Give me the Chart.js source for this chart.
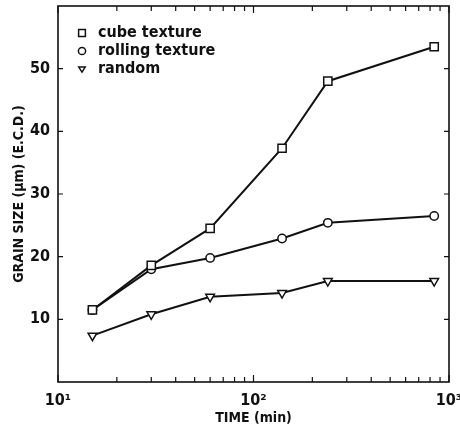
<!DOCTYPE html>
<html>
<head>
<meta charset="utf-8">
<script src="https://cdn.jsdelivr.net/npm/chart.js@4.4.1/dist/chart.umd.min.js"></script>
<style>
  html, body { margin: 0; padding: 0; background: #fff; }
  #wrap { width: 460px; height: 430px; }
</style>
</head>
<body>
<div id="wrap"><canvas id="c" width="460" height="430"></canvas></div>
<script>
// Annealing time (min) and mean grain size (µm, equivalent circle diameter)
const times = [15, 30, 60, 140, 240, 840];
const cubeTexture = [11.5, 18.6, 24.5, 37.3, 48.0, 53.5];
const rollingTexture = [11.5, 18.0, 19.8, 22.9, 25.4, 26.5];
const randomTexture = [7.4, 10.8, 13.6, 14.2, 16.1, 16.1];

const seriesNames = ['cube texture', 'rolling texture', 'random'];
const seriesStyles = ['rect', 'circle', 'triangleDown'];

// Axis ticks: decades are labelled, the rest are minor marks
const xTickValues = [10, 20, 30, 40, 50, 60, 70, 80, 90, 100, 200, 300, 400, 500, 600, 700, 800, 900, 1000];
const xTickLabels = { 10: '10\u00B9', 100: '10\u00B2', 1000: '10\u00B3' };
const yTickValues = [10, 20, 30, 40, 50];

const FONT = '"DejaVu Sans Condensed", "DejaVu Sans", sans-serif';
const INK = '#111';

function markerPath(ctx, style, x, y, r) {
  ctx.beginPath();
  if (style === 'rect') {
    const h = r * Math.SQRT1_2;
    ctx.rect(x - h, y - h, 2 * h, 2 * h);
  } else if (style === 'circle') {
    ctx.arc(x, y, r, 0, Math.PI * 2);
  } else {
    // downward triangle
    const s = r * 0.9;
    ctx.moveTo(x - s, y - s * 0.6);
    ctx.lineTo(x + s, y - s * 0.6);
    ctx.lineTo(x, y + s * 0.95);
    ctx.closePath();
  }
}

// Closed frame with inward tick marks on all four sides
const framePlugin = {
  id: 'frame',
  afterDraw(chart) {
    const { ctx, chartArea: a, scales } = chart;
    const xs = scales.x, ys = scales.y;
    ctx.save();
    ctx.strokeStyle = INK;
    ctx.lineWidth = 1.6;
    ctx.strokeRect(a.left, a.top, a.right - a.left, a.bottom - a.top);
    ctx.lineWidth = 1.2;
    ctx.beginPath();
    xTickValues.forEach(v => {
      const px = xs.getPixelForValue(v);
      const len = xTickLabels[v] ? 7 : 5;
      ctx.moveTo(px, a.bottom); ctx.lineTo(px, a.bottom - len);
      ctx.moveTo(px, a.top); ctx.lineTo(px, a.top + len);
    });
    yTickValues.forEach(v => {
      const py = ys.getPixelForValue(v);
      ctx.moveTo(a.left, py); ctx.lineTo(a.left + 5, py);
      ctx.moveTo(a.right, py); ctx.lineTo(a.right - 5, py);
    });
    ctx.stroke();
    ctx.restore();
  }
};

// Key drawn inside the plot, top-left
const keyPlugin = {
  id: 'key',
  afterDraw(chart) {
    const { ctx, chartArea: a } = chart;
    ctx.save();
    ctx.font = 'bold 16px ' + FONT;
    ctx.textBaseline = 'middle';
    seriesNames.forEach((name, i) => {
      const y = a.top + 27 + i * 18;
      const x = a.left + 24;
      ctx.lineWidth = 1.5;
      ctx.strokeStyle = INK;
      ctx.fillStyle = '#fff';
      markerPath(ctx, seriesStyles[i], x, y, seriesStyles[i] === 'rect' ? 4.8 : 3.6);
      ctx.fill(); ctx.stroke();
      ctx.fillStyle = INK;
      ctx.fillText(name, a.left + 40, y);
    });
    ctx.restore();
  }
};

function makeSet(label, values, style) {
  return {
    label,
    data: times.map((t, i) => ({ x: t, y: values[i] })),
    borderColor: INK,
    borderWidth: 2,
    backgroundColor: '#fff',
    pointBackgroundColor: '#fff',
    pointBorderColor: INK,
    pointBorderWidth: 1.5,
    pointStyle: style === 'triangleDown' ? 'triangle' : style,
    pointRotation: style === 'triangleDown' ? 180 : 0,
    pointRadius: style === 'rect' ? 5.8 : (style === 'circle' ? 4.2 : 5),
    tension: 0,
    fill: false
  };
}

new Chart(document.getElementById('c'), {
  type: 'line',
  data: {
    datasets: [
      makeSet(seriesNames[0], cubeTexture, seriesStyles[0]),
      makeSet(seriesNames[1], rollingTexture, seriesStyles[1]),
      makeSet(seriesNames[2], randomTexture, seriesStyles[2])
    ]
  },
  options: {
    responsive: false,
    animation: false,
    devicePixelRatio: 1,
    layout: { autoPadding: false, padding: { top: 6, right: 11, left: 0, bottom: 0 } },
    plugins: { legend: { display: false }, tooltip: { enabled: false } },
    scales: {
      x: {
        type: 'logarithmic',
        min: 10,
        max: 1000,
        afterBuildTicks(scale) {
          scale.ticks = xTickValues.map(v => ({ value: v, major: !!xTickLabels[v] }));
        },
        afterFit(scale) {
          scale.height = 48;
          scale.paddingLeft = 0;
          scale.paddingRight = 0;
        },
        grid: { display: false, drawTicks: false },
        border: { display: false },
        ticks: {
          autoSkip: false,
          maxRotation: 0,
          padding: 9,
          color: INK,
          font: { family: FONT, size: 16, weight: 'bold' },
          callback: (v) => xTickLabels[v] || ''
        },
        title: {
          display: true,
          text: 'TIME (min)',
          color: INK,
          font: { family: FONT, size: 14, weight: 'bold' },
          padding: { top: 0, bottom: 3 }
        }
      },
      y: {
        min: 0,
        max: 60,
        afterBuildTicks(scale) {
          scale.ticks = yTickValues.map(v => ({ value: v }));
        },
        afterFit(scale) {
          scale.width = 58;
          scale.paddingTop = 0;
          scale.paddingBottom = 0;
        },
        grid: { display: false, drawTicks: false },
        border: { display: false },
        ticks: {
          padding: 8,
          color: INK,
          font: { family: FONT, size: 16, weight: 'bold' }
        },
        title: {
          display: true,
          text: 'GRAIN SIZE (\u00B5m) (E.C.D.)',
          color: INK,
          font: { family: FONT, size: 14, weight: 'bold' },
          padding: { top: 11, bottom: 0 }
        }
      }
    }
  },
  plugins: [framePlugin, keyPlugin]
});
</script>
</body>
</html>
